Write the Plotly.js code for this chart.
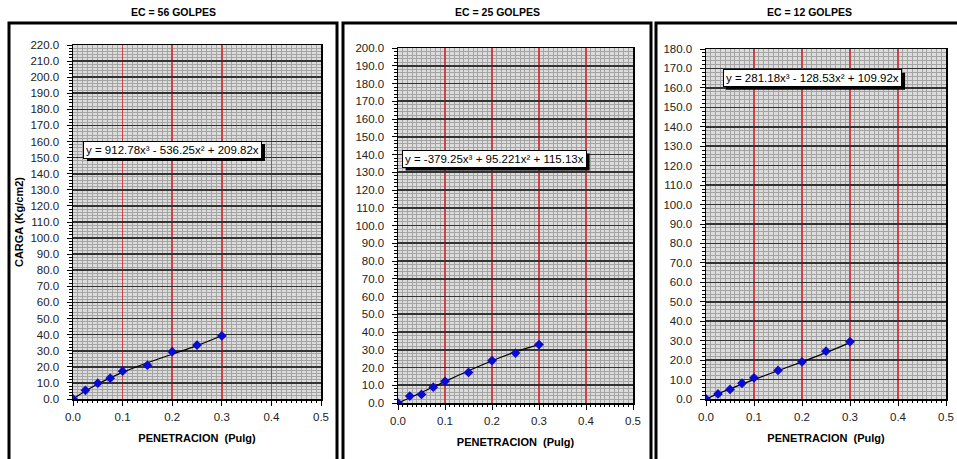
<!DOCTYPE html>
<html>
<head>
<meta charset="utf-8">
<script src="https://cdn.plot.ly/plotly-3.0.1.min.js"></script>
<style>html,body{margin:0;padding:0;background:#fff;}#chart{width:957px;height:459px;}</style>
</head>
<body>
<div id="chart"></div>
<script>
// ---- data ----
const penetracion = [0, 0.025, 0.05, 0.075, 0.1, 0.15, 0.2, 0.25, 0.3];
const carga56 = [0, 5.4, 9.8, 12.9, 17.3, 21.0, 29.4, 33.5, 39.2];
const carga25 = [0, 3.9, 4.8, 8.9, 12.2, 17.2, 23.9, 28.1, 32.9];
const carga12 = [0, 2.6, 4.9, 8.1, 10.9, 14.7, 19.1, 24.6, 29.5];
const coef56 = [912.78, -536.25, 209.82];
const coef25 = [-379.25, 95.221, 115.13];
const coef12 = [281.18, -128.53, 109.92];
const panelTitles = ['EC = 56 GOLPES', 'EC = 25 GOLPES', 'EC = 12 GOLPES'];
const equations = ['y = 912.78x³ - 536.25x² + 209.82x', 'y = -379.25x³ + 95.221x² + 115.13x', 'y = 281.18x³ - 128.53x² + 109.92x'];
const yMax = [220, 200, 180];
const xTitle = 'PENETRACION  (Pulg)';
const yTitle = 'CARGA (Kg/cm2)';

// ---- layout geometry (pixels) ----
const W = 957, H = 459;
const plots = [
  {x0: 73, x1: 321, y0: 45, y1: 399, eqX: 0.2016, eqY: 155, eqW: 178, box: [9, 337]},
  {x0: 398, x1: 633, y0: 48, y1: 403, eqX: 0.2055, eqY: 137.5, eqW: 184, box: [343, 651]},
  {x0: 706, x1: 946, y0: 49, y1: 399, eqX: 0.222, eqY: 165, eqW: 179, box: [656, 962]}
];
const series = [carga56, carga25, carga12];
const coefs = [coef56, coef25, coef12];

const FONT = 'Liberation Sans, Arial, sans-serif';
const traces = [];
const layout = {
  width: W, height: H,
  margin: {l: 0, r: 0, t: 0, b: 0},
  paper_bgcolor: '#ffffff',
  plot_bgcolor: '#dcdcdc',
  showlegend: false,
  font: {family: FONT, color: '#222'},
  annotations: [],
  shapes: []
};

plots.forEach((p, i) => {
  const sfx = i === 0 ? '' : String(i + 1);
  const xa = 'x' + sfx, ya = 'y' + sfx;
  const c = coefs[i];
  const trend = penetracion.map(x => c[0] * x * x * x + c[1] * x * x + c[2] * x);
  traces.push({
    x: penetracion, y: trend, xaxis: xa, yaxis: ya, type: 'scatter', mode: 'lines',
    line: {color: '#000', width: 1.2, shape: 'spline'}, hoverinfo: 'skip'
  });
  traces.push({
    x: penetracion, y: series[i], xaxis: xa, yaxis: ya, type: 'scatter', mode: 'markers',
    marker: {symbol: 'diamond', size: 7.5, color: '#0a0ad0', line: {width: 0}}
  });
  layout['xaxis' + sfx] = {
    domain: [p.x0 / W, p.x1 / W], anchor: ya, range: [0, 0.5],
    dtick: 0.1, tick0: 0, tickformat: '.1f', ticklabeloverflow: 'allow',
    showgrid: true, gridcolor: '#cc4448', gridwidth: 1.6,
    zeroline: false, showline: true, linecolor: '#000', linewidth: 1.5, mirror: true,
    ticks: 'outside', ticklen: 5, tickcolor: '#000', ticklabelstandoff: 2,
    minor: {dtick: 0.01, showgrid: true, gridcolor: '#a4a4a4', gridwidth: 1, ticks: 'outside', ticklen: 2, tickcolor: '#000'},
    tickfont: {family: FONT, size: 11.5, color: '#222'},
    title: {text: '<b>' + xTitle + '</b>', font: {family: FONT, size: 11, color: '#000'}, standoff: 12},
    automargin: false
  };
  layout['yaxis' + sfx] = {
    domain: [1 - p.y1 / H, 1 - p.y0 / H], anchor: xa, range: [0, yMax[i]],
    dtick: 10, tick0: 0, tickformat: '.1f',
    showgrid: true, gridcolor: '#333333', gridwidth: 1.6,
    zeroline: false, showline: true, linecolor: '#000', linewidth: 1.5, mirror: true,
    ticks: 'outside', ticklen: 5, tickcolor: '#000', ticklabelstandoff: 5,
    minor: {dtick: 2, showgrid: true, gridcolor: '#a4a4a4', gridwidth: 1, ticks: 'outside', ticklen: 3, tickcolor: '#000'},
    tickfont: {family: FONT, size: 11.5, color: '#222'},
    automargin: false
  };
  if (i === 0) {
    layout['yaxis' + sfx].title = {text: '<b>' + yTitle + '</b>', font: {family: FONT, size: 11, color: '#000'}, standoff: 4};
  }
  // panel title
  layout.annotations.push({
    text: '<b>' + panelTitles[i] + '</b>', xref: 'paper', yref: 'paper',
    x: ((p.box[0] + p.box[1]) / 2) / W, y: 1 - 12 / H, xanchor: 'center', yanchor: 'middle',
    showarrow: false, font: {family: FONT, size: 10.5, color: '#000'}
  });
  // equation shadow (pixel-sized rect) + box
  layout.shapes.push({
    type: 'rect', xref: xa, yref: ya, layer: 'above',
    xsizemode: 'pixel', ysizemode: 'pixel', xanchor: p.eqX, yanchor: p.eqY,
    x0: -p.eqW / 2 + 3, x1: p.eqW / 2 + 3, y0: -8.5 - 3, y1: 8.5 - 3,
    fillcolor: '#000', line: {width: 0}
  });
  layout.annotations.push({
    text: equations[i], xref: xa, yref: ya, x: p.eqX, y: p.eqY, showarrow: false,
    font: {family: FONT, size: 11.5, color: '#000'}, bgcolor: '#fff', bordercolor: '#000', borderwidth: 1, borderpad: 2
  });
  // panel frame
  layout.shapes.push({
    type: 'rect', xref: 'paper', yref: 'paper', layer: 'above',
    x0: p.box[0] / W, x1: p.box[1] / W, y0: -0.05, y1: 1 - 23 / H,
    line: {color: '#000', width: 3}
  });
});

Plotly.newPlot('chart', traces, layout, {staticPlot: true, displayModeBar: false});
</script>
</body>
</html>
